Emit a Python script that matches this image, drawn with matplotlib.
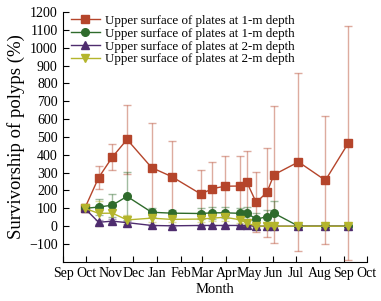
import pandas as pd
import matplotlib
matplotlib.use("Agg")
import matplotlib.pyplot as plt
import matplotlib.dates as mdates

plt.rcParams['font.family'] = ['Liberation Serif', 'DejaVu Serif']

# sampling dates
dates = pd.to_datetime([
    '2010-09-29', '2010-10-17', '2010-11-04', '2010-11-23', '2010-12-25',
    '2011-01-20', '2011-02-27', '2011-03-14', '2011-03-30', '2011-04-19',
    '2011-04-28', '2011-05-10', '2011-05-24', '2011-06-02', '2011-07-04',
    '2011-08-08', '2011-09-07'])

red = [100, 272, 388, 486, 328, 278, 180, 210, 224, 225, 245, 133, 190, 288, 360, 257, 467]
red_err = [10, 65, 75, 195, 252, 198, 133, 152, 167, 166, 178, 168, 250, 385, 497, 358, 655]

green = [100, 107, 118, 167, 78, 73, 71, 75, 75, 72, 75, 38, 54, 73, 0, 0, 0]
green_err = [8, 45, 65, 135, 25, 20, 30, 32, 30, 30, 32, 35, 35, 67, 0, 0, 0]

purple = [100, 22, 28, 20, 4, 2, 4, 4, 4, 4, 4, 0, 0, 0, 0, 0, 0]
purple_err = [8, 10, 12, 10, 5, 4, 4, 4, 4, 4, 4, 0, 0, 0, 0, 0, 0]

yellow = [100, 72, 73, 35, 45, 38, 40, 45, 50, 36, 18, 0, 0, 0, 0, 0, 0]
yellow_err = [8, 70, 60, 28, 20, 15, 15, 18, 20, 18, 15, 0, 0, 0, 0, 0, 0]

labels = ['Upper surface of plates at 1-m depth',
          'Upper surface of plates at 1-m depth',
          'Upper surface of plates at 2-m depth',
          'Upper surface of plates at 2-m depth']
colors = ['#b5452b', '#2f6b2c', '#4e2c6e', '#b4b52c']
markers = ['s', 'o', '^', 'v']

fig = plt.figure(figsize=(3.81, 3.01), dpi=100)
ax = fig.add_axes([0.166, 0.130, 0.797, 0.830])

series = [(red, red_err), (green, green_err), (purple, purple_err), (yellow, yellow_err)]
handles = []
for (vals, errs), lab, c, m in zip(series, labels, colors, markers):
    eb = ax.errorbar(dates, vals, yerr=errs, color=c, marker=m, markersize=5.5,
                     linewidth=1.0, elinewidth=1.0, capsize=3, capthick=1.0,
                     ecolor=c, label=lab)
    for part in eb[1] + eb[2]:
        part.set_alpha(0.45)
    handles.append(eb[0])

ax.set_xlim(pd.Timestamp('2010-09-01'), pd.Timestamp('2011-10-01'))
ax.set_ylim(-200, 1200)
ax.set_yticks(range(-100, 1201, 100))
ax.xaxis.set_major_locator(mdates.MonthLocator())
ax.xaxis.set_major_formatter(mdates.DateFormatter('%b'))

ax.spines['top'].set_visible(False)
ax.spines['right'].set_visible(False)
ax.tick_params(direction='in', labelsize=10, length=4, pad=4)
ax.set_xlabel('Month', fontsize=10.5, labelpad=2)
ax.set_ylabel('Survivorship of polyps (%)', fontsize=13.5, labelpad=3)

ax.legend(handles, labels, loc='upper left', bbox_to_anchor=(0.0, 1.02),
          frameon=False, fontsize=9.4, handlelength=2.2, handletextpad=0.4,
          labelspacing=0.05, borderaxespad=0.2)

fig.savefig('out.png', dpi=100)
